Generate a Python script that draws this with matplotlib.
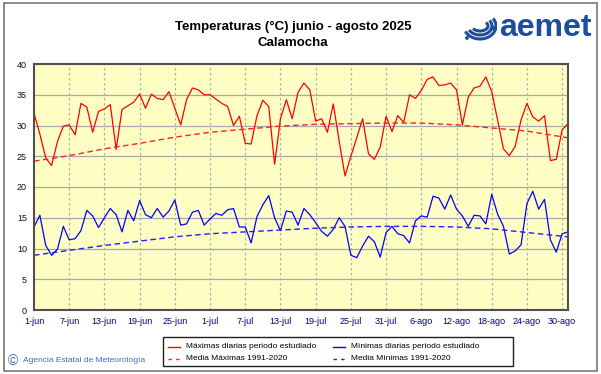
import matplotlib
matplotlib.use('Agg')
import matplotlib.pyplot as plt
from matplotlib.lines import Line2D
from matplotlib.patches import Rectangle, Arc, Circle

plt.rcParams['font.family'] = ['Liberation Sans', 'DejaVu Sans']

# daily data, day 0 = 1 June ... day 91 = 31 August
tmax = [32.0, 28.6, 24.7, 23.5, 27.4, 29.9, 30.1, 28.5, 33.6, 33.0,
        28.9, 32.3, 32.7, 33.4, 26.1, 32.6, 33.2, 33.8, 35.1, 32.8,
        35.1, 34.4, 34.2, 35.5, 32.8, 30.1, 34.2, 36.1, 35.8, 35.0,
        35.0, 34.3, 33.6, 33.1, 30.0, 31.5, 27.1, 27.0, 31.6, 34.1,
        33.1, 23.7, 31.1, 34.2, 31.1, 35.4, 36.9, 35.8, 30.7, 31.1,
        28.9, 33.5, 27.5, 21.8, 25.0, 28.0, 31.1, 25.4, 24.5, 26.5,
        31.5, 29.0, 31.6, 30.5, 35.0, 34.4, 35.7, 37.5, 37.9, 36.5,
        36.6, 36.9, 35.8, 30.1, 34.6, 36.1, 36.4, 37.9, 35.5, 30.9,
        26.2, 25.1, 26.6, 30.9, 33.6, 31.4, 30.7, 31.6, 24.3, 24.5,
        29.3, 30.3]
tmin = [13.5, 15.4, 10.5, 8.9, 9.9, 13.6, 11.4, 11.6, 12.9, 16.2,
        15.3, 13.4, 15.0, 16.5, 15.5, 12.7, 16.2, 14.5, 17.8, 15.5,
        15.0, 16.5, 15.1, 16.1, 17.9, 13.8, 14.0, 15.9, 16.2, 13.8,
        14.8, 15.7, 15.4, 16.3, 16.5, 13.5, 13.5, 10.9, 15.2, 17.1,
        18.6, 15.0, 12.9, 16.1, 15.9, 13.8, 16.5, 15.5, 14.2, 12.8,
        12.0, 13.1, 15.0, 13.6, 8.9, 8.5, 10.4, 12.0, 11.1, 8.6,
        12.6, 13.6, 12.4, 12.1, 10.9, 14.5, 15.3, 15.1, 18.5, 18.2,
        16.4, 18.7, 16.4, 15.3, 13.6, 15.4, 15.3, 14.0, 18.8, 15.6,
        13.6, 9.1, 9.6, 10.6, 17.3, 19.3, 16.4, 18.0, 11.4, 9.4,
        12.4, 12.7]

# 1991-2020 normals
mean_days = [0, 6, 12, 18, 24, 30, 36, 42, 48, 54, 60, 66, 72, 78, 84, 91]
mean_max = [24.2, 25.1, 26.2, 27.1, 28.1, 28.9, 29.4, 29.9, 30.2, 30.3,
            30.4, 30.4, 30.1, 29.6, 29.1, 28.0]
mean_min = [8.9, 9.7, 10.5, 11.2, 11.9, 12.4, 12.7, 13.0, 13.3, 13.5,
            13.6, 13.6, 13.5, 13.2, 12.6, 11.9]

tick_days = list(range(0, 91, 6))
tick_labels = ['1-jun', '7-jun', '13-jun', '19-jun', '25-jun', '1-jul', '7-jul',
               '13-jul', '19-jul', '25-jul', '31-jul', '6-ago', '12-ago',
               '18-ago', '24-ago', '30-ago']

W, H = 601, 374
fig = plt.figure(figsize=(W / 100, H / 100), dpi=100, facecolor='white')


def fx(px):
    return px / W


def fy(py):
    return 1 - py / H


# outer frame
fig.patches.append(Rectangle((fx(4), fy(371)), 593 / W, 368 / H, transform=fig.transFigure,
                             fill=False, edgecolor='#777777', lw=1.2))

ax = fig.add_axes([fx(34), fy(310), 534 / W, 246 / H])
ax.set_facecolor('#fefec4')

days = list(range(len(tmax)))
ax.plot(days, tmax, color='#ff0000', lw=0.9)
ax.plot(days, tmin, color='#0000ff', lw=0.9)
ax.plot(mean_days, mean_max, color='#ff2020', lw=1.0, dashes=(4, 2.5))
ax.plot(mean_days, mean_min, color='#2020ff', lw=1.0, dashes=(4, 2.5))

ax.set_xlim(0, 91)
ax.set_ylim(0, 40)
ax.set_yticks(range(0, 41, 5))
ax.set_xticks(tick_days)
ax.set_xticklabels(tick_labels, color='#000080')
ax.tick_params(length=0, labelsize=6.5, pad=5)
for t in ax.get_yticklabels():
    t.set_color('#101010')

for y in range(5, 40, 5):
    ax.axhline(y, color='#a8a8a8', lw=0.9, zorder=0.5)
for d in tick_days[1:]:
    ax.axvline(d, color='#b0b0b0', lw=0.9, ls=(0, (2, 2)), zorder=0.5)

for s in ax.spines.values():
    s.set_color('#505050')
    s.set_linewidth(1.5)

# titles
fig.text(fx(293), fy(27), 'Temperaturas (°C) junio - agosto 2025', ha='center', va='center',
         fontsize=9.5, fontweight='bold')
fig.text(fx(293), fy(43), 'Calamocha', ha='center', va='center',
         fontsize=9.5, fontweight='bold')

# aemet logo
logo_blue = '#1d4e9e'
fig.text(fx(499), fy(28), 'aemet', ha='left', va='center', fontsize=23,
         fontweight='bold', color=logo_blue)
lax = fig.add_axes([fx(463), fy(44), 34 / W, 32 / H])
lax.set_xlim(0, 34)
lax.set_ylim(0, 32)
lax.axis('off')
for r in [6, 10, 14]:
    lax.add_patch(Arc((17, 18), 2 * r + 4, 2 * r - 2, theta1=200, theta2=30,
                      color=logo_blue, lw=2.2))
lax.add_patch(Circle((30, 16), 1.6, color=logo_blue))
lax.add_patch(Circle((4, 6), 1.2, color=logo_blue))

# legend, drawn by hand to match the two fixed columns
fig.patches.append(Rectangle((fx(163), fy(366)), 350 / W, 29 / H, transform=fig.transFigure,
                             facecolor='white', edgecolor='#202020', lw=1.0))
legend_items = [
    ('Máximas diarias periodo estudiado', '#ff0000', '-', 168, 347),
    ('Media Máximas 1991-2020', '#ff2020', '--', 168, 359),
    ('Mínimas diarias periodo estudiado', '#0000ff', '-', 333, 347),
    ('Media Mínimas 1991-2020', '#2020ff', '--', 333, 359),
]
for label, color, style, x0, y0 in legend_items:
    ln = Line2D([fx(x0), fx(x0 + 12)], [fy(y0), fy(y0)], transform=fig.transFigure,
                color=color, lw=1.0)
    if style == '--':
        ln.set_dashes((2.5, 3))
    fig.lines.append(ln)
    fig.text(fx(x0 + 18), fy(y0), label, ha='left', va='center', fontsize=6.0)

# copyright line
fig.text(fx(8), fy(361), '©', ha='left', va='center', fontsize=10, color='#3a6bc8')
fig.text(fx(23), fy(361), 'Agencia Estatal de Meteorología', ha='left', va='center',
         fontsize=6.0, color='#3a6bc8')

fig.savefig('out.png', dpi=100, facecolor='white')
